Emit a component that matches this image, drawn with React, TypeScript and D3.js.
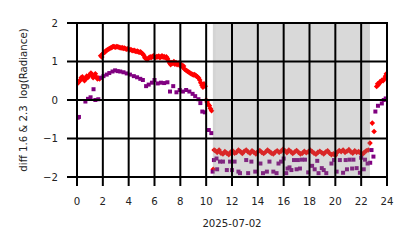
import React from "react";
import * as d3 from "d3";

const xTicks = [0, 2, 4, 6, 8, 10, 12, 14, 16, 18, 20, 22, 24];
const yTicks = [-2, -1, 0, 1, 2];
const xLabel = "2025-07-02";
const yLabel = "diff 1.6 & 2.3  log(Radiance)";
const nightSpan: [number, number] = [10.52, 22.68];
const edgeSpans: [number, number][] = [[10.52, 10.72], [22.08, 22.68]];

const redPoints: [number, number][] = [
  [0.0, 0.42], [0.08, 0.45], [0.17, 0.48], [0.25, 0.52], [0.33, 0.58], [0.42, 0.6], [0.5, 0.55], [0.58, 0.5],
  [0.67, 0.55], [0.75, 0.62], [0.83, 0.58], [0.92, 0.63], [1.0, 0.66], [1.08, 0.7], [1.17, 0.64], [1.25, 0.58],
  [1.33, 0.62], [1.42, 0.68], [1.5, 0.6], [1.58, 0.55], [1.67, 0.57], [1.75, 0.55], [1.83, 1.15], [1.92, 1.12],
  [2.0, 1.2], [2.08, 1.23], [2.17, 1.25], [2.25, 1.28], [2.33, 1.3], [2.42, 1.32], [2.5, 1.33], [2.58, 1.35],
  [2.67, 1.36], [2.75, 1.38], [2.83, 1.39], [2.92, 1.38], [3.0, 1.37], [3.08, 1.39], [3.17, 1.38], [3.25, 1.37],
  [3.33, 1.36], [3.42, 1.35], [3.5, 1.36], [3.58, 1.34], [3.67, 1.35], [3.75, 1.33], [3.83, 1.32], [3.92, 1.33],
  [4.0, 1.31], [4.08, 1.3], [4.17, 1.31], [4.25, 1.29], [4.33, 1.28], [4.42, 1.29], [4.5, 1.27], [4.58, 1.26],
  [4.67, 1.27], [4.75, 1.25], [4.83, 1.24], [4.92, 1.25], [5.0, 1.22], [5.08, 1.2], [5.17, 1.16], [5.25, 1.1],
  [5.33, 1.08], [5.42, 1.05], [5.5, 1.07], [5.58, 1.1], [5.67, 1.12], [5.75, 1.1], [5.83, 1.13], [5.92, 1.15],
  [6.0, 1.12], [6.08, 1.1], [6.17, 1.13], [6.25, 1.12], [6.33, 1.14], [6.42, 1.1], [6.5, 1.12], [6.58, 1.15],
  [6.67, 1.11], [6.75, 1.13], [6.83, 1.1], [6.92, 1.12], [7.0, 1.08], [7.08, 1.02], [7.17, 0.96], [7.25, 0.92],
  [7.33, 0.97], [7.42, 0.95], [7.5, 1.0], [7.58, 0.93], [7.67, 0.97], [7.75, 0.92], [7.83, 0.95], [7.92, 0.96],
  [8.0, 0.88], [8.08, 0.92], [8.17, 0.86], [8.25, 0.88], [8.33, 0.8], [8.42, 0.78], [8.5, 0.76], [8.58, 0.74],
  [8.67, 0.72], [8.75, 0.7], [8.83, 0.68], [8.92, 0.67], [9.0, 0.65], [9.08, 0.66], [9.17, 0.64], [9.25, 0.62],
  [9.33, 0.6], [9.42, 0.57], [9.5, 0.52], [9.58, 0.45], [9.67, 0.38], [9.75, 0.33], [9.83, 0.42], [9.92, 0.36],
  [10.0, 0.0], [10.08, -0.05], [10.17, -0.12], [10.25, -0.15], [10.33, -0.22], [10.42, -0.28],
  [10.55, -1.8], [10.62, -1.3], [10.7, -1.32], [10.85, -1.36], [11.0, -1.3], [11.15, -1.38], [11.3, -1.4],
  [11.45, -1.34], [11.6, -1.38], [11.75, -1.42], [11.9, -1.35], [12.05, -1.32], [12.2, -1.38], [12.35, -1.36],
  [12.5, -1.3], [12.65, -1.34], [12.8, -1.39], [12.95, -1.33], [13.1, -1.3], [13.25, -1.35], [13.4, -1.38],
  [13.55, -1.32], [13.7, -1.36], [13.85, -1.4], [14.0, -1.34], [14.15, -1.31], [14.3, -1.36], [14.45, -1.39],
  [14.6, -1.35], [14.75, -1.3], [14.9, -1.34], [15.05, -1.38], [15.2, -1.4], [15.35, -1.35], [15.5, -1.32],
  [15.65, -1.36], [15.8, -1.33], [15.95, -1.28], [16.1, -1.32], [16.25, -1.37], [16.4, -1.3], [16.55, -1.34],
  [16.7, -1.39], [16.85, -1.35], [17.0, -1.31], [17.15, -1.36], [17.3, -1.4], [17.45, -1.38], [17.6, -1.33],
  [17.75, -1.37], [17.9, -1.35], [18.05, -1.3], [18.2, -1.34], [18.35, -1.38], [18.5, -1.41], [18.65, -1.36],
  [18.8, -1.33], [18.95, -1.37], [19.1, -1.4], [19.25, -1.35], [19.4, -1.32], [19.55, -1.38], [19.7, -1.42],
  [19.85, -1.4], [20.0, -1.44], [20.15, -1.36], [20.3, -1.31], [20.45, -1.34], [20.6, -1.3], [20.75, -1.36],
  [20.9, -1.33], [21.05, -1.29], [21.2, -1.35], [21.35, -1.38], [21.5, -1.32], [21.65, -1.36], [21.8, -1.34],
  [21.95, -1.38], [22.1, -1.41], [22.25, -1.36], [22.4, -1.32], [22.55, -1.3], [22.68, -1.12], [22.86, -0.6],
  [23.0, -0.82], [23.2, 0.35], [23.28, 0.42], [23.35, 0.4], [23.45, 0.47], [23.55, 0.48], [23.62, 0.52],
  [23.7, 0.5], [23.8, 0.55], [23.88, 0.62], [23.95, 0.68],
];

const purplePoints: [number, number][] = [
  [0.05, -0.46], [0.15, -0.44], [0.65, -0.04], [0.85, 0.03], [1.05, 0.07], [1.28, 0.28], [1.42, 0.0], [1.65, 0.02],
  [1.88, 0.58], [2.05, 0.62], [2.3, 0.66], [2.5, 0.7], [2.75, 0.74], [2.95, 0.77], [3.15, 0.75], [3.35, 0.74],
  [3.6, 0.72], [3.85, 0.69], [4.1, 0.66], [4.4, 0.62], [4.65, 0.59], [4.9, 0.55], [5.1, 0.52], [5.35, 0.36],
  [5.55, 0.4], [5.8, 0.45], [6.0, 0.52], [6.25, 0.43], [6.5, 0.45], [6.75, 0.44], [7.0, 0.46], [7.2, 0.22],
  [7.45, 0.36], [7.7, 0.2], [7.95, 0.26], [8.2, 0.22], [8.45, 0.26], [8.7, 0.22], [8.95, 0.16], [9.15, 0.1],
  [9.4, 0.02], [9.55, -0.08], [9.7, -0.3], [9.9, -0.32], [10.2, -0.78], [10.4, -0.86],
  [10.5, -1.86], [10.6, -1.56], [10.8, -1.52], [10.85, -1.8], [11.07, -1.6], [11.3, -1.6], [11.6, -1.82],
  [11.85, -1.6], [12.0, -1.82], [12.2, -1.6], [12.5, -1.86], [12.62, -1.9], [13.1, -1.56], [13.25, -1.9],
  [13.5, -1.6], [13.8, -1.86], [14.2, -1.65], [14.4, -1.9], [14.7, -1.86], [14.9, -1.6], [15.2, -1.86],
  [15.45, -1.9], [15.6, -1.65], [15.8, -1.6], [16.0, -1.52], [16.2, -1.9], [16.3, -1.78], [16.45, -1.75],
  [16.6, -1.82], [16.8, -1.56], [17.0, -1.8], [17.1, -1.56], [17.26, -1.78], [17.4, -1.55], [17.65, -1.55],
  [17.9, -1.88], [18.2, -1.71], [18.4, -1.8], [18.6, -1.58], [18.7, -1.9], [18.95, -1.77], [19.1, -1.82],
  [19.3, -1.9], [19.7, -1.65], [19.9, -1.56], [20.1, -1.86], [20.35, -1.56], [20.6, -1.89], [20.8, -1.56],
  [20.9, -1.8], [21.1, -1.55], [21.3, -1.78], [21.4, -1.55], [21.65, -1.77], [21.9, -1.89], [22.0, -1.5],
  [22.2, -1.8], [22.3, -1.55], [22.5, -1.65], [22.7, -1.63], [22.8, -1.3], [22.95, -1.47], [23.1, -0.3],
  [23.3, -0.15], [23.6, -0.09], [23.75, 0.0], [23.9, 0.04],
];

const W = 414;
const H = 248;
const left = 77;
const right = 387;
const top = 23;
const bottom = 177;
const font = "DejaVu Sans, sans-serif";
const fs = 10.2;

export default function App() {
  const x = d3.scaleLinear().domain([0, 24]).range([left, right]);
  const y = d3.scaleLinear().domain([-2, 2]).range([bottom, top]);
  const diamond = d3.symbol().type(d3.symbolDiamond2).size(20)() as string;
  const square = d3.symbol().type(d3.symbolSquare).size(16)() as string;

  return (
    <svg width={W} height={H} style={{ position: "absolute", left: 0, top: 0, background: "#fff" }}>
      <defs>
        <clipPath id="plotClip">
          <rect x={left} y={top} width={right - left} height={bottom - top} />
        </clipPath>
      </defs>
      <g clipPath="url(#plotClip)">
        {redPoints.map(([h, v], i) => (
          <path key={"r" + i} d={diamond} transform={`translate(${x(h)},${y(v)})`} fill="#ff0000" />
        ))}
        {purplePoints.map(([h, v], i) => (
          <path key={"p" + i} d={square} transform={`translate(${x(h)},${y(v)})`} fill="#800080" />
        ))}
        <rect
          x={x(nightSpan[0])}
          y={top}
          width={x(nightSpan[1]) - x(nightSpan[0])}
          height={bottom - top}
          fill="#808080"
          fillOpacity={0.3}
        />
        {edgeSpans.map(([a, b], i) => (
          <rect key={"e" + i} x={x(a)} y={top} width={x(b) - x(a)} height={bottom - top} fill="#808080" fillOpacity={0.05} />
        ))}
      </g>
      {yTicks.map((t) => (
        <line key={"gy" + t} x1={67} x2={right} y1={y(t)} y2={y(t)} stroke="#000" strokeWidth={2} />
      ))}
      {xTicks.map((t) => (
        <line key={"gx" + t} x1={x(t)} x2={x(t)} y1={top - 1} y2={186} stroke="#000" strokeWidth={2} />
      ))}
      {yTicks.map((t) => (
        <text key={"ty" + t} x={58} y={y(t) + 3.7} textAnchor="end" fontFamily={font} fontSize={fs} fill="#222">
          {t < 0 ? "\u2212" + Math.abs(t) : String(t)}
        </text>
      ))}
      {xTicks.map((t) => (
        <text key={"tx" + t} x={x(t)} y={205} textAnchor="middle" fontFamily={font} fontSize={fs} fill="#222">
          {String(t)}
        </text>
      ))}
      <text x={(left + right) / 2} y={227} textAnchor="middle" fontFamily={font} fontSize={fs} fill="#222">
        {xLabel}
      </text>
      <text
        transform={`translate(27,${(top + bottom) / 2}) rotate(-90)`}
        textAnchor="middle"
        fontFamily={font}
        fontSize={fs}
        fill="#222"
        style={{ whiteSpace: "pre" }}
      >
        {yLabel}
      </text>
    </svg>
  );
}
